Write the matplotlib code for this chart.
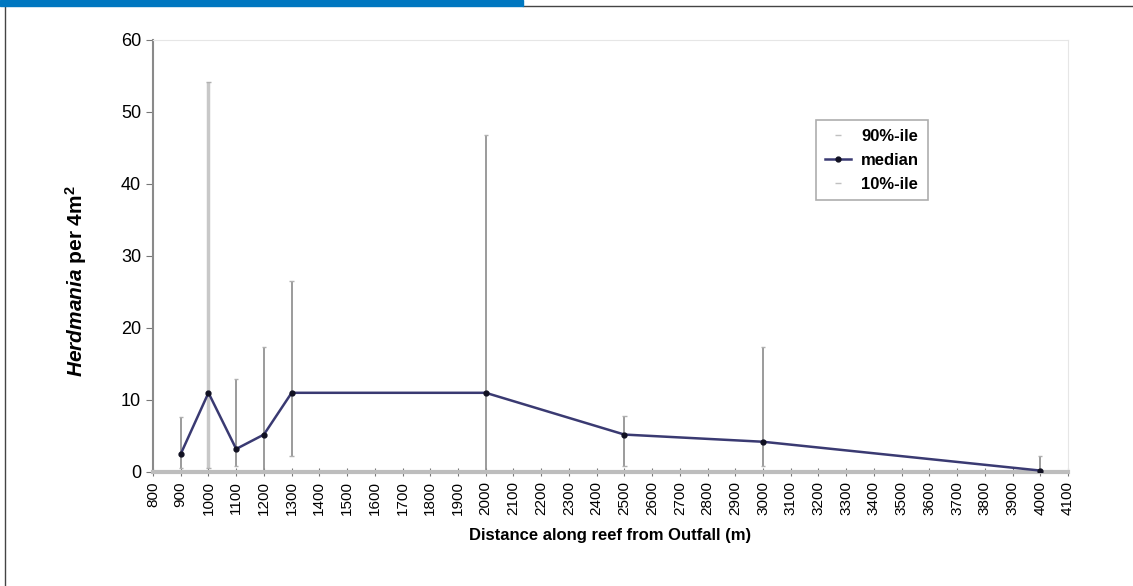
import numpy as np
import matplotlib.pyplot as plt
from matplotlib.lines import Line2D
from matplotlib.patches import Rectangle

plt.rcParams['font.family'] = ['Liberation Sans', 'DejaVu Sans']
plt.rcParams['mathtext.fontset'] = 'custom'
plt.rcParams['mathtext.rm'] = 'Liberation Sans:bold'
plt.rcParams['mathtext.it'] = 'Liberation Sans:bold:italic'
plt.rcParams['mathtext.bf'] = 'Liberation Sans:bold'

# data
distance = [900, 1000, 1100, 1200, 1300, 2000, 2500, 3000, 4000]
median = [2.5, 11.0, 3.2, 5.2, 11.0, 11.0, 5.2, 4.2, 0.2]
p90 = [7.6, 54.2, 12.9, 17.3, 26.5, 46.8, 7.8, 17.3, 2.2]
p10 = [0.5, 0.5, 0.8, 0.0, 2.2, 0.0, 0.8, 0.8, 0.1]

fig = plt.figure(figsize=(11.33, 5.86), dpi=100)

# header bar and frame
fig.patches.append(Rectangle((0, 1 - 6/586), 523/1133, 6/586, transform=fig.transFigure,
                             color='#0077c0', zorder=5))
fig.add_artist(Line2D([5/1133, 5/1133], [0, 1 - 6/586], transform=fig.transFigure,
                      color='#444444', lw=1))
fig.add_artist(Line2D([523/1133, 1], [1 - 6/586, 1 - 6/586], transform=fig.transFigure,
                      color='#444444', lw=1))

ax = fig.add_axes([153/1133, 1 - 472/586, 915/1133, 432/586])

# 10%-90% range as vertical lines
widths = [2.5 if d == 1000 else 1.2 for d in distance]
cols = ['#c8c8c8' if d == 1000 else '#8a8a8a' for d in distance]
for d, lo, hi, w, c in zip(distance, p10, p90, widths, cols):
    ax.vlines(d, lo, hi, color=c, lw=w, zorder=2)
    ax.hlines([lo, hi], d - 8, d + 8, color='#b0b0b0', lw=1, zorder=2)

ax.plot(distance, median, color='#3a3a72', lw=1.8, marker='o', ms=3.5,
        markerfacecolor='#111122', markeredgecolor='#111122', zorder=3)

ax.set_xlim(800, 4100)
ax.set_ylim(0, 60)
ax.set_xticks(np.arange(800, 4101, 100))
ax.set_yticks(np.arange(0, 61, 10))
ax.tick_params(axis='x', labelrotation=90, labelsize=11, direction='inout', length=6,
               color='#777777')
ax.tick_params(axis='y', labelsize=13, direction='out', length=5, color='#777777')

for s in ['top', 'right']:
    ax.spines[s].set_color('#e6e6e6')
ax.spines['left'].set_color('#8a8a8a')
ax.spines['left'].set_linewidth(1.5)
ax.spines['bottom'].set_color('#bdbdbd')
ax.spines['bottom'].set_linewidth(3)

ax.set_xlabel('Distance along reef from Outfall (m)', fontsize=12, fontweight='bold',
              labelpad=9)
ax.set_ylabel(r'$\it{Herdmania}$ per 4m$^{2}$', fontsize=15, fontweight='bold')
ax.yaxis.set_label_coords(-0.07, 0.442)

handles = [
    Line2D([], [], color='#c0c0c0', marker='_', lw=0, ms=5),
    Line2D([], [], color='#3a3a72', lw=1.8, marker='o', ms=3.5,
           markerfacecolor='#111122', markeredgecolor='#111122'),
    Line2D([], [], color='#c0c0c0', marker='_', lw=0, ms=5),
]
leg = ax.legend(handles, ['90%-ile', 'median', '10%-ile'], loc='upper left',
                bbox_to_anchor=(655/915, 1 - 72/432), frameon=True, fancybox=False,
                prop={'weight': 'bold', 'size': 12}, handlelength=1.6,
                handletextpad=0.6, borderpad=0.5, labelspacing=0.55)
leg.get_frame().set_edgecolor('#999999')
leg.get_frame().set_linewidth(1.2)

fig.savefig('out.png', dpi=100)
